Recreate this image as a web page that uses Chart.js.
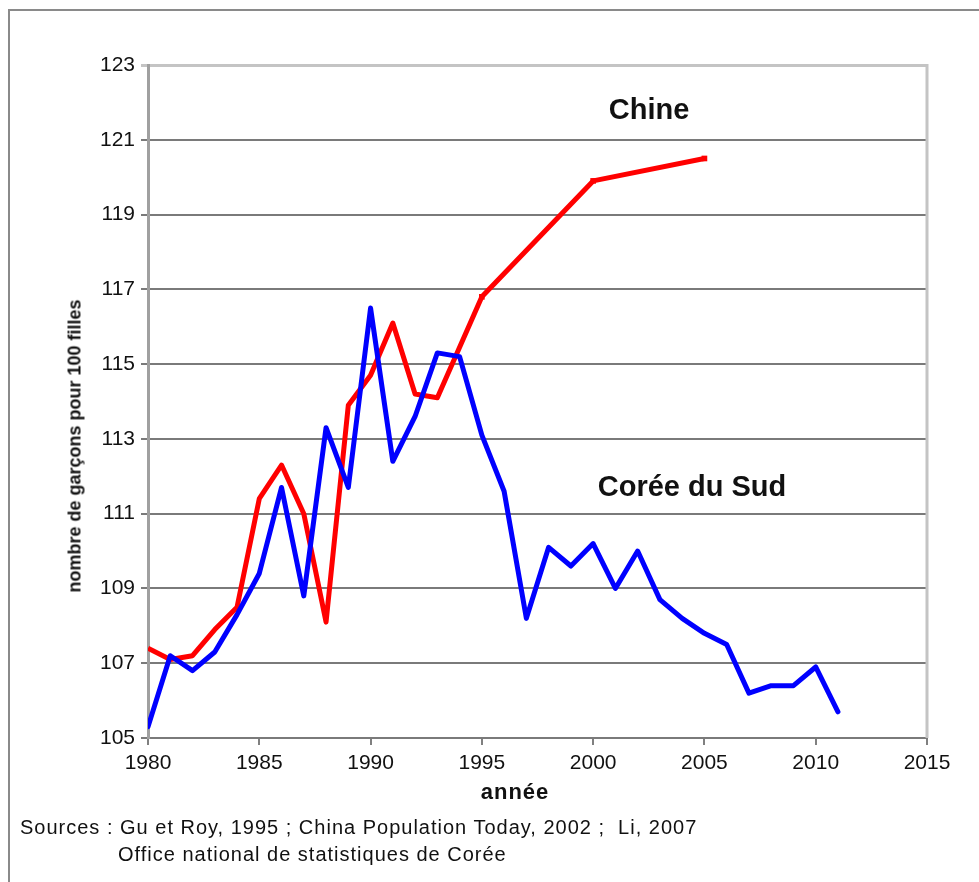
<!DOCTYPE html>
<html>
<head>
<meta charset="utf-8">
<script src="https://cdn.jsdelivr.net/npm/chart.js@4/dist/chart.umd.min.js"></script>
<style>
  html, body { margin: 0; padding: 0; background: #fff; }
  body { width: 979px; height: 882px; position: relative; overflow: hidden; font-family: "Liberation Sans", Arial, sans-serif; }
  #frame { position: absolute; left: 8px; top: 9px; width: 1000px; height: 900px; border-left: 2px solid #8a8a8a; border-top: 2px solid #8a8a8a; }
  #wrap { position: absolute; left: 0; top: 0; width: 979px; height: 882px; }
  .lbl { position: absolute; color: #111; white-space: nowrap; }
  .series { font-weight: bold; font-size: 29px; transform: translate(-50%, -50%); }
  #ytitle { left: 75px; top: 446px; font-weight: bold; font-size: 18px; transform: translate(-50%, -50%) rotate(-90deg); }
  #xtitle { left: 515px; top: 792px; font-weight: bold; font-size: 22px; letter-spacing: 1px; transform: translate(-50%, -50%); }
  .src { font-size: 20px; letter-spacing: 1px; }
</style>
</head>
<body>
<div id="frame"></div>
<div id="wrap"><canvas id="c"></canvas></div>
<div class="lbl series" style="left:649px; top:109px;">Chine</div>
<div class="lbl series" style="left:692px; top:486px;">Corée du Sud</div>
<div class="lbl" id="ytitle">nombre de garçons pour 100 filles</div>
<div class="lbl" id="xtitle">année</div>
<div class="lbl src" style="left:20px; top:816px;">Sources : Gu et Roy, 1995 ; China Population Today, 2002 ;&nbsp; Li, 2007</div>
<div class="lbl src" style="left:118px; top:843px;">Office national de statistiques de Corée</div>
<script>
// ---- data ----
const chinaYears = [1980, 1981, 1982, 1983, 1984, 1985, 1986, 1987, 1988, 1989, 1990, 1991, 1992, 1993, 1995, 2000, 2005];
const chinaValues = [107.4, 107.1, 107.2, 107.9, 108.5, 111.4, 112.3, 111.0, 108.1, 113.9, 114.7, 116.1, 114.2, 114.1, 116.8, 119.9, 120.5];
const koreaYears = [1980, 1981, 1982, 1983, 1984, 1985, 1986, 1987, 1988, 1989, 1990, 1991, 1992, 1993, 1994, 1995, 1996, 1997, 1998, 1999, 2000, 2001, 2002, 2003, 2004, 2005, 2006, 2007, 2008, 2009, 2010, 2011];
const koreaValues = [105.3, 107.2, 106.8, 107.3, 108.3, 109.4, 111.7, 108.8, 113.3, 111.7, 116.5, 112.4, 113.6, 115.3, 115.2, 113.1, 111.6, 108.2, 110.1, 109.6, 110.2, 109.0, 110.0, 108.7, 108.2, 107.8, 107.5, 106.2, 106.4, 106.4, 106.9, 105.7];
const xMin = 1980, xMax = 2015, xStep = 5;
const yMin = 105, yMax = 123, yStep = 2;

const toPoints = (xs, ys) => xs.map((x, i) => ({ x: x, y: ys[i] }));

const rightBorder = {
  id: 'rightBorder',
  afterDatasetsDraw(chart) {
    const a = chart.chartArea, ctx = chart.ctx;
    ctx.save();
    ctx.strokeStyle = '#c4c4c4';
    ctx.lineWidth = 3;
    ctx.beginPath();
    ctx.moveTo(a.right, a.top - 1);
    ctx.lineTo(a.right, a.bottom);
    ctx.stroke();
    ctx.restore();
  }
};

new Chart(document.getElementById('c'), {
  type: 'line',
  data: {
    datasets: [
      {
        label: 'Corée du Sud',
        data: toPoints(koreaYears, koreaValues),
        borderColor: '#0000ff',
        backgroundColor: '#0000ff',
        borderWidth: 5,
        borderJoinStyle: 'round',
        borderCapStyle: 'round',
        pointRadius: 0,
        tension: 0,
        order: 1
      },
      {
        label: 'Chine',
        data: toPoints(chinaYears, chinaValues),
        borderColor: '#ff0000',
        backgroundColor: '#ff0000',
        borderWidth: 5,
        borderJoinStyle: 'round',
        pointStyle: 'rect',
        pointRadius: (c) => (c.raw && c.raw.x >= 1995 ? 4 : 0),
        pointBorderWidth: 0,
        tension: 0,
        order: 2
      }
    ]
  },
  options: {
    responsive: true,
    maintainAspectRatio: false,
    animation: false,
    layout: { padding: { top: 65, right: 52, left: 0, bottom: 0 } },
    plugins: { legend: { display: false }, tooltip: { enabled: false } },
    scales: {
      x: {
        type: 'linear',
        min: xMin, max: xMax,
        afterBuildTicks: (s) => { const t = []; for (let v = xMin; v <= xMax; v += xStep) t.push({ value: v }); s.ticks = t; },
        ticks: { color: '#111', font: { family: 'Liberation Sans', size: 21 }, padding: 6, maxRotation: 0, callback: (v) => String(v) },
        grid: { drawOnChartArea: false, drawTicks: true, tickLength: 7, color: '#808080', lineWidth: 2 },
        border: { display: true, color: '#7a7a7a', width: 2 },
        afterFit: (s) => { s.height = 144; }
      },
      y: {
        type: 'linear',
        min: yMin, max: yMax,
        afterBuildTicks: (s) => { const t = []; for (let v = yMin; v <= yMax; v += yStep) t.push({ value: v }); s.ticks = t; },
        ticks: { color: '#111', font: { family: 'Liberation Sans', size: 21 }, padding: 6, callback: (v) => String(v) },
        grid: {
          drawTicks: true, tickLength: 7,
          color: (c) => (c.tick && c.tick.value === yMax ? '#c4c4c4' : '#7a7a7a'),
          lineWidth: (c) => (c.tick && c.tick.value === yMax ? 3 : 2)
        },
        border: { display: true, color: '#a0a0a0', width: 3 },
        afterFit: (s) => { s.width = 148; }
      }
    }
  },
  plugins: [rightBorder]
});
</script>
</body>
</html>
